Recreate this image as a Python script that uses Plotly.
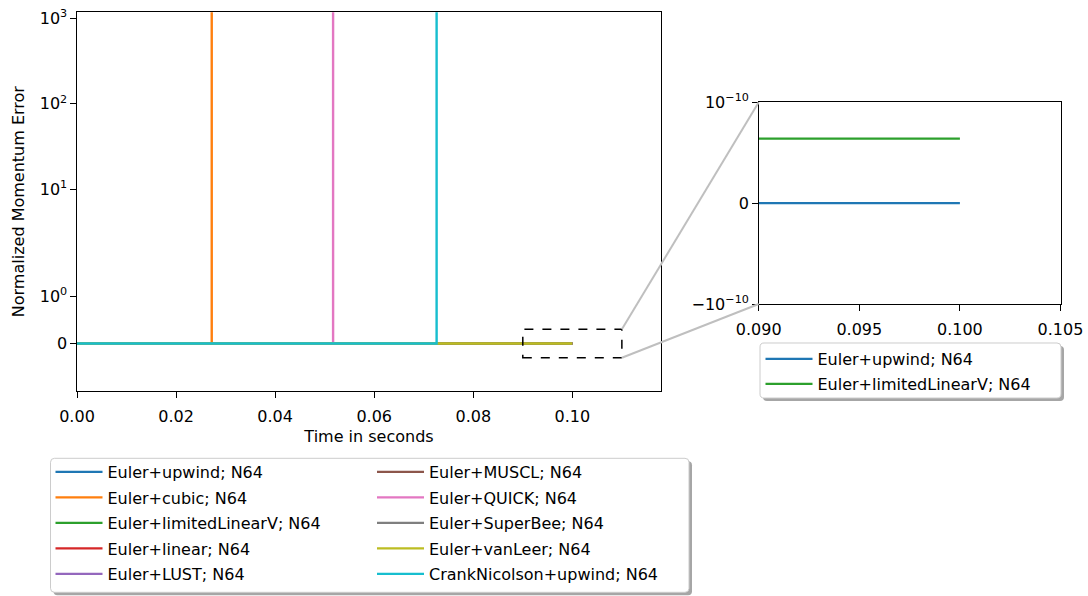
import numpy as np
import plotly.graph_objects as go

# ---------------- data ----------------
series_names = [
    "Euler+upwind; N64", "Euler+cubic; N64", "Euler+limitedLinearV; N64",
    "Euler+linear; N64", "Euler+LUST; N64", "Euler+MUSCL; N64",
    "Euler+QUICK; N64", "Euler+SuperBee; N64", "Euler+vanLeer; N64",
    "CrankNicolson+upwind; N64",
]
series_colors = ["#1f77b4", "#ff7f0e", "#2ca02c", "#d62728", "#9467bd",
                 "#8c564b", "#e377c2", "#7f7f7f", "#bcbd22", "#17becf"]

upwind_t = [0.0, 0.1]
upwind_err = [0.0, 0.0]
cubic_t = [0.0, 0.0272, 0.0272]
cubic_err = [0.0, 0.0, 1.0e5]
limitedLinearV_t = [0.0, 0.1]
limitedLinearV_err = [6.4e-11, 6.4e-11]
linear_t = [0.0, 0.1]
linear_err = [0.0, 0.0]
LUST_t = [0.0, 0.1]
LUST_err = [0.0, 0.0]
MUSCL_t = [0.0, 0.1]
MUSCL_err = [0.0, 0.0]
QUICK_t = [0.0, 0.0517, 0.0517]
QUICK_err = [0.0, 0.0, 1.0e5]
SuperBee_t = [0.0, 0.1]
SuperBee_err = [0.0, 0.0]
vanLeer_t = [0.0, 0.1]
vanLeer_err = [0.0, 0.0]
CN_t = [0.0, 0.0726, 0.0726]
CN_err = [0.0, 0.0, 1.0e5]

main_ytick_values = [0, 1, 10, 100, 1000]
main_ytick_labels = ["0", "10<sup>0</sup>", "10<sup>1</sup>", "10<sup>2</sup>", "10<sup>3</sup>"]
main_xtick_values = [0.0, 0.02, 0.04, 0.06, 0.08, 0.10]
inset_ytick_values = [-1e-10, 0.0, 1e-10]
inset_ytick_labels = ["\u221210<sup>\u221210</sup>", "0", "10<sup>\u221210</sup>"]
inset_xtick_values = [0.090, 0.095, 0.100, 0.105]

inset_names = ["Euler+upwind; N64", "Euler+limitedLinearV; N64"]

all_t = [upwind_t, cubic_t, limitedLinearV_t, linear_t, LUST_t,
         MUSCL_t, QUICK_t, SuperBee_t, vanLeer_t, CN_t]
all_err = [upwind_err, cubic_err, limitedLinearV_err, linear_err, LUST_err,
           MUSCL_err, QUICK_err, SuperBee_err, vanLeer_err, CN_err]

# ---------------- symlog transform (matplotlib-style) ----------------
LINTHRESH = 2.0
LINSCALE_ADJ = 1.0 / (1.0 - 1.0 / 10.0)


def symlog(v):
    v = np.asarray(v, dtype=float)
    a = np.abs(v)
    out = np.where(a <= LINTHRESH, a * LINSCALE_ADJ / LINTHRESH,
                   LINSCALE_ADJ + np.log10(np.maximum(a, 1e-300) / LINTHRESH))
    return np.sign(v) * out


# ---------------- layout geometry ----------------
W, H = 1088, 596
FONT = "DejaVu Sans"
FS = 16

main_xdom = [77.0 / W, 661.0 / W]
main_ydom = [1 - 391.0 / H, 1 - 12.3 / H]
main_xrange = [0.0, 0.1179]
main_yrange = [float(symlog(-1.0)), float(symlog(1175.0))]

ins_xdom = [758.7 / W, 1060.5 / W]
ins_ydom = [1 - 304.0 / H, 1 - 102.3 / H]
ins_xrange = [0.09, 0.105]
ins_yrange = [-1e-10, 1e-10]


def main_to_paper(x, y):
    px = main_xdom[0] + (x - main_xrange[0]) / (main_xrange[1] - main_xrange[0]) * (main_xdom[1] - main_xdom[0])
    ty = float(symlog(y))
    py = main_ydom[0] + (ty - main_yrange[0]) / (main_yrange[1] - main_yrange[0]) * (main_ydom[1] - main_ydom[0])
    return px, py


def inset_to_paper(x, y):
    px = ins_xdom[0] + (x - ins_xrange[0]) / (ins_xrange[1] - ins_xrange[0]) * (ins_xdom[1] - ins_xdom[0])
    py = ins_ydom[0] + (y - ins_yrange[0]) / (ins_yrange[1] - ins_yrange[0]) * (ins_ydom[1] - ins_ydom[0])
    return px, py


fig = go.Figure()

# main traces
for i, (name, col, t, e) in enumerate(zip(series_names, series_colors, all_t, all_err)):
    fig.add_trace(go.Scatter(
        x=t, y=symlog(e), mode="lines", name=name,
        line=dict(color=col, width=2.4),
        legend="legend" if i < 5 else "legend2",
        legendgroup="g%d" % i, xaxis="x", yaxis="y",
        hoverinfo="skip",
    ))

# inset traces (same series, linear region of the symlog)
for j, name in enumerate(inset_names):
    k = series_names.index(name)
    fig.add_trace(go.Scatter(
        x=all_t[k], y=all_err[k], mode="lines", name=name,
        line=dict(color=series_colors[k], width=2.4),
        legend="legend3", legendgroup="i%d" % j, xaxis="x2", yaxis="y2",
        hoverinfo="skip",
    ))

axis_common = dict(showline=True, linecolor="black", linewidth=1.2, mirror=True,
                   ticks="outside", ticklen=5.5, tickwidth=1.1, tickcolor="black",
                   showgrid=False, zeroline=False, automargin=False,
                   tickfont=dict(family=FONT, size=FS, color="black"))

legend_common = dict(xanchor="left", yanchor="top", bgcolor="rgba(0,0,0,0)",
                     borderwidth=0, itemwidth=47,
                     font=dict(family=FONT, size=FS, color="black"))

fig.update_layout(
    width=W, height=H, autosize=False,
    margin=dict(l=0, r=0, t=0, b=0, pad=0),
    paper_bgcolor="white", plot_bgcolor="white",
    font=dict(family=FONT, size=FS, color="black"),
    xaxis=dict(domain=main_xdom, range=main_xrange, anchor="y",
               tickvals=main_xtick_values, tickformat=".2f", ticklabelstandoff=5,
               title=dict(text="Time in seconds", standoff=6,
                          font=dict(family=FONT, size=FS, color="black")),
               **axis_common),
    yaxis=dict(domain=main_ydom, range=main_yrange, anchor="x",
               tickvals=list(symlog(main_ytick_values)), ticktext=main_ytick_labels,
               title=dict(text="Normalized Momentum Error", standoff=11,
                          font=dict(family=FONT, size=FS, color="black")),
               **axis_common),
    xaxis2=dict(domain=ins_xdom, range=ins_xrange, anchor="y2", ticklabelstandoff=5,
                tickvals=inset_xtick_values, tickformat=".3f", **axis_common),
    yaxis2=dict(domain=ins_ydom, range=ins_yrange, anchor="x2",
                tickvals=inset_ytick_values, ticktext=inset_ytick_labels,
                **axis_common),
    legend=dict(x=50.5 / W, y=1 - 455.0 / H, tracegroupgap=1.7, **legend_common),
    legend2=dict(x=372.0 / W, y=1 - 455.0 / H, tracegroupgap=1.7, **legend_common),
    legend3=dict(x=760.5 / W, y=1 - 342.0 / H, tracegroupgap=1.2, **legend_common),
)


def rounded_rect(x0, y0, x1, y1, r=4):
    # pixel coords (y down) -> paper path
    def P(x, y):
        return "%.5f,%.5f" % (x / W, 1 - y / H)
    return ("M " + P(x0 + r, y0) + " L " + P(x1 - r, y0) + " Q " + P(x1, y0) + " " + P(x1, y0 + r) +
            " L " + P(x1, y1 - r) + " Q " + P(x1, y1) + " " + P(x1 - r, y1) +
            " L " + P(x0 + r, y1) + " Q " + P(x0, y1) + " " + P(x0, y1 - r) +
            " L " + P(x0, y0 + r) + " Q " + P(x0, y0) + " " + P(x0 + r, y0) + " Z")


shapes = []
# legend frames with shadows
for (x0, y0, x1, y1) in [(50.5, 458.3, 689.0, 592.3), (760.0, 343.0, 1061.0, 398.0)]:
    shapes.append(dict(type="path", xref="paper", yref="paper", layer="below",
                       path=rounded_rect(x0 + 3, y0 + 3, x1 + 3, y1 + 3),
                       fillcolor="#a6a6a6", line=dict(width=0)))
    shapes.append(dict(type="path", xref="paper", yref="paper", layer="below",
                       path=rounded_rect(x0, y0, x1, y1),
                       fillcolor="white", line=dict(color="#cccccc", width=1)))

# zoom indicator box on the main axes
box_x = [0.09, 0.11]
box_y = [-0.3, 0.3]
shapes.append(dict(type="rect", xref="x", yref="y", layer="above",
                   x0=box_x[0], x1=box_x[1],
                   y0=float(symlog(box_y[0])), y1=float(symlog(box_y[1])),
                   line=dict(color="black", width=1.5, dash="dash")))

# connector lines
for by, iy in [(box_y[1], ins_yrange[1]), (box_y[0], ins_yrange[0])]:
    ax, ay = main_to_paper(box_x[1], by)
    bx, bby = inset_to_paper(ins_xrange[0], iy)
    shapes.append(dict(type="line", xref="paper", yref="paper", layer="above",
                       x0=ax, y0=ay, x1=bx, y1=bby,
                       line=dict(color="#bfbfbf", width=2)))

fig.update_layout(shapes=shapes)

html = fig.to_html(full_html=True, include_plotlyjs=True,
                   config={"displayModeBar": False, "staticPlot": False})
html = html.replace("<head>", "<head><style>html,body{margin:0;padding:0;overflow:hidden;}</style>", 1)
with open("out.html", "w", encoding="utf-8") as fh:
    fh.write(html)
